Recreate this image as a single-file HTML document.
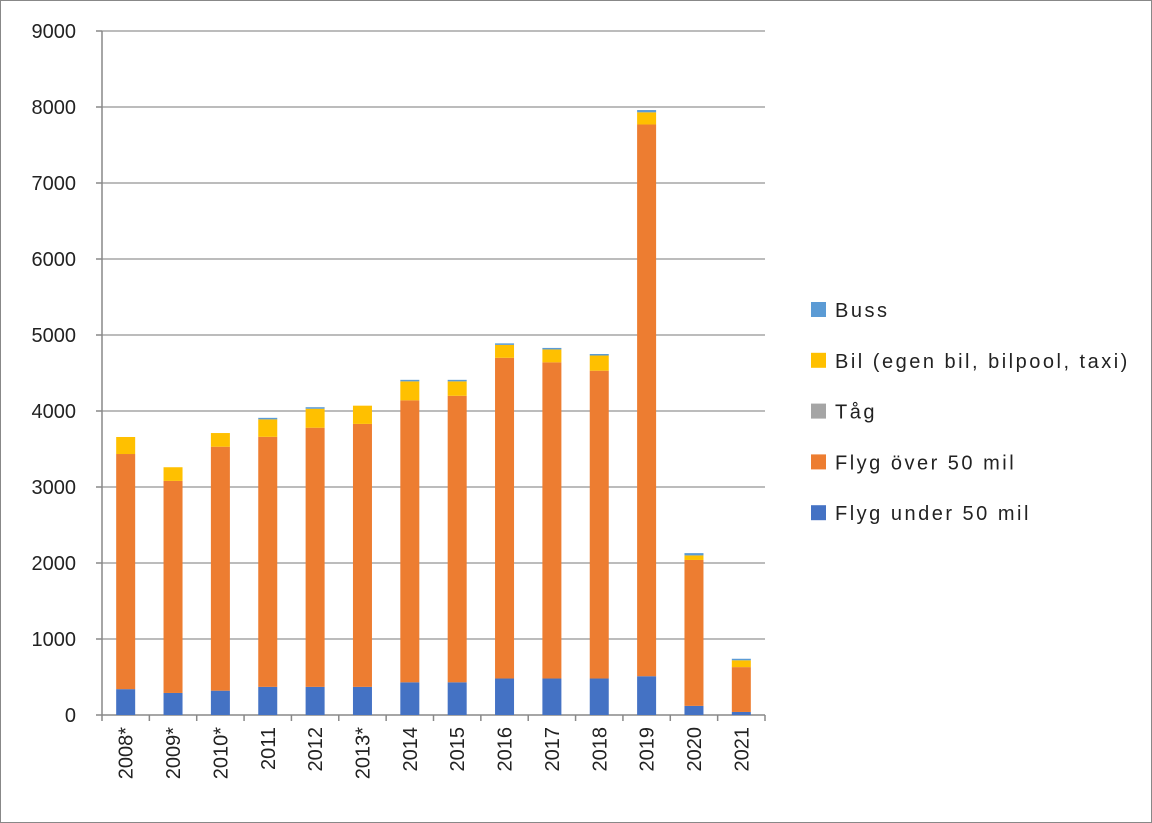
<!DOCTYPE html>
<html><head><meta charset="utf-8"><style>
html,body{margin:0;padding:0;background:#fff}
svg{display:block}
text{font-family:"Liberation Sans",sans-serif;fill:#222}
</style></head><body>
<svg id="s" width="1152" height="823" xmlns="http://www.w3.org/2000/svg">
<rect x="0.5" y="0.5" width="1151" height="822" fill="#fff" stroke="#888"/>
</svg>
<script>
const s=document.getElementById('s');const NS='http://www.w3.org/2000/svg';
function el(t,a,txt){const e=document.createElementNS(NS,t);for(const k in a)e.setAttribute(k,a[k]);if(txt!=null)e.textContent=txt;s.appendChild(e);return e;}
const y0=715,k=0.076,x0=102,x1=765;
for(let i=1;i<=9;i++){const y=y0-i*1000*k;el('line',{x1:x0,x2:x1,y1:y,y2:y,stroke:'#a6a6a6','stroke-width':1.5});}
for(let i=0;i<=9;i++){const y=y0-i*1000*k;el('line',{x1:96,x2:x0,y1:y,y2:y,stroke:'#888','stroke-width':1.5});el('text',{x:76,y:y+7,'text-anchor':'end','font-size':20},String(i*1000));}
el('line',{x1:x0,x2:x0,y1:31,y2:y0,stroke:'#888','stroke-width':1.5});
el('line',{x1:x0,x2:x1,y1:y0,y2:y0,stroke:'#888','stroke-width':1.5});
const cats=['2008*','2009*','2010*','2011','2012','2013*','2014','2015','2016','2017','2018','2019','2020','2021'];
const d=[[340,3434,3658,3658],[290,3080,3260,3260],[320,3530,3710,3710],[370,3660,3890,3910],[370,3780,4030,4050],[370,3830,4070,4070],[430,4140,4390,4410],[430,4200,4390,4410],[480,4700,4870,4890],[480,4640,4810,4830],[480,4530,4730,4750],[510,7770,7930,7960],[120,2040,2100,2130],[40,630,720,740]];
const w=(x1-x0)/14;const cols=['#4472c4','#ed7d31','#ffc000','#5b9bd5'];
for(let i=0;i<=14;i++){const x=x0+i*w;el('line',{x1:x,x2:x,y1:y0,y2:y0+6,stroke:'#888','stroke-width':1.5});}
cats.forEach((c,i)=>{const cx=x0+(i+0.5)*w;let prev=0;d[i].forEach((v,j)=>{if(v>prev){el('rect',{x:cx-9.5,y:y0-v*k,width:19,height:(v-prev)*k,fill:cols[j]});}prev=v;});
el('text',{x:0,y:0,'text-anchor':'end','font-size':20,transform:`translate(${cx+7},${y0+12}) rotate(-90)`},c);});
const leg=[['Buss','#5b9bd5'],['Bil (egen bil, bilpool, taxi)','#ffc000'],['Tåg','#a5a5a5'],['Flyg över 50 mil','#ed7d31'],['Flyg under 50 mil','#4472c4']];
leg.forEach((l,i)=>{const y=310+i*50.8;el('rect',{x:811,y:y-8,width:15,height:15,fill:l[1]});el('text',{x:835,y:y+7,'font-size':20,'letter-spacing':'2.5'},l[0]);});
</script>
</body></html>
